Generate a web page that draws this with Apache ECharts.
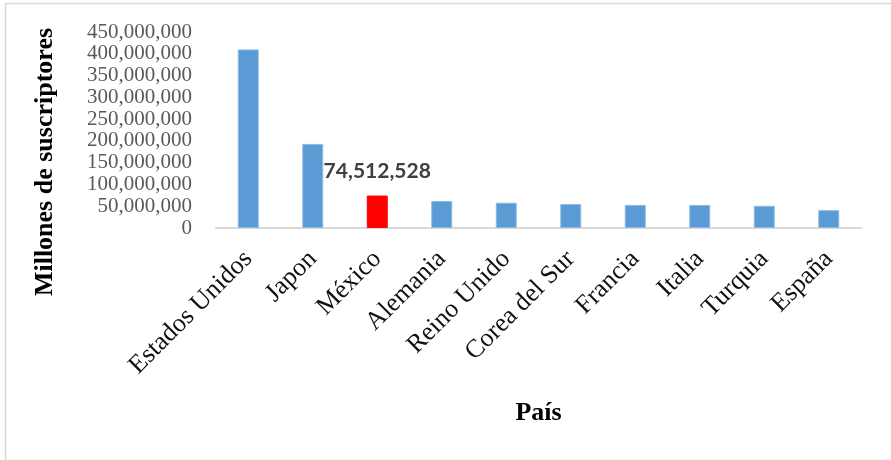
<!DOCTYPE html>
<html>
<head>
<meta charset="utf-8">
<script src="https://cdn.jsdelivr.net/npm/echarts@6/dist/echarts.min.js"></script>
<style>
html,body{margin:0;padding:0;background:#fff;}
#chart{width:891px;height:460px;}
</style>
</head>
<body>
<div id="chart"></div>
<script>
const categories = ["Estados Unidos","Japon","México","Alemania","Reino Unido","Corea del Sur","Francia","Italia","Turquia","España"];
const values = [410000000, 193000000, 74512528, 62000000, 58000000, 55000000, 53000000, 53000000, 51000000, 41000000];
const highlightIndex = 2;
const yTitle = "Millones de suscriptores";
const xTitle = "País";

function fmt(v){ return String(Math.round(v)).replace(/\B(?=(\d{3})+(?!\d))/g, ","); }

const seriesData = values.map((v,i) => {
  if (i === highlightIndex) {
    return {
      value: v,
      itemStyle: { color: '#ff0000', borderColor: '#ff0000' },
      label: {
        show: true, position: 'top', distance: 14,
        formatter: p => fmt(p.value),
        fontFamily: 'Lato', fontWeight: 'bold', fontSize: 21, color: '#404040'
      }
    };
  }
  return v;
});

const chart = echarts.init(document.getElementById('chart'), null, {renderer:'canvas'});
chart.setOption({
  animation: false,
  backgroundColor: '#fff',
  graphic: [{
    type: 'rect', left: 3, top: 1, silent: true,
    shape: { width: 900, height: 457 },
    style: { fill: 'none', stroke: '#d9d9d9', lineWidth: 1.5 }
  }],
  grid: { left: 216, right: 30, top: 32, bottom: 232 },
  xAxis: {
    type: 'category',
    data: categories,
    axisLine: { lineStyle: { color: '#d9d9d9', width: 2 } },
    axisTick: { show: false },
    axisLabel: {
      rotate: 45, interval: 0, margin: 27,
      fontFamily: 'Liberation Serif', fontSize: 26, color: '#111'
    },
    name: xTitle, nameLocation: 'middle', nameGap: 172,
    nameTextStyle: { fontFamily: 'Liberation Serif', fontWeight: 'bold', fontSize: 26, color: '#000' }
  },
  yAxis: {
    type: 'value', min: 0, max: 450000000, interval: 50000000,
    splitLine: { show: false },
    axisLine: { show: false },
    axisTick: { show: false },
    axisLabel: {
      formatter: v => fmt(v), margin: 24,
      showMinLabel: true, showMaxLabel: true,
      fontFamily: 'Liberation Serif', fontSize: 21, color: '#595959'
    },
    name: yTitle, nameLocation: 'middle', nameGap: 158, nameRotate: 90,
    nameTextStyle: { fontFamily: 'Liberation Serif', fontWeight: 'bold', fontSize: 26, color: '#000', padding: [0, 64, 0, 0] }
  },
  series: [{
    type: 'bar',
    data: seriesData,
    barWidth: 21,
    itemStyle: { color: '#5b9bd5', borderColor: '#8fbbe3', borderWidth: 1 }
  }]
});
</script>
</body>
</html>
